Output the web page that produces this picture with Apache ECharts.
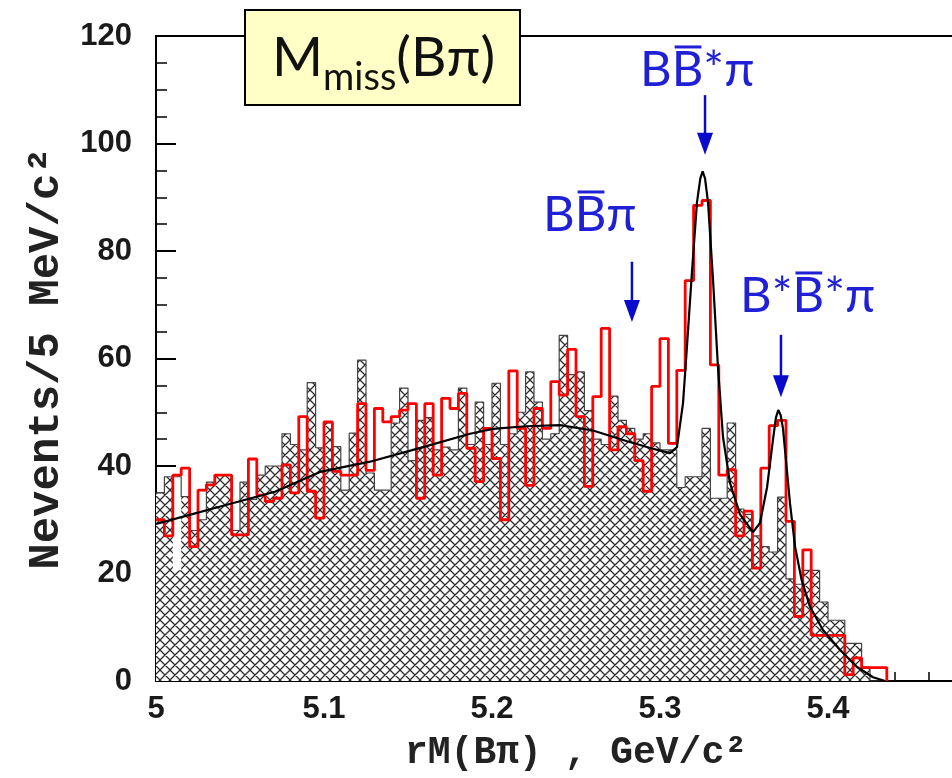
<!DOCTYPE html>
<html><head><meta charset="utf-8">
<script src="https://cdn.jsdelivr.net/npm/echarts@6/dist/echarts.min.js"></script>
<style>html,body{margin:0;padding:0;background:#fff}#c{width:952px;height:778px}</style>
</head><body><div id="c"></div>
<script>
// ---- data (bins of 5 MeV starting at 5.000 GeV) ----
const xStart = 5.0;
const binWidth = 0.005;

// red histogram (signal data)
const redCounts = [30, 27, 38.3, 39.6, 25, 35.5, 36.5, 38.3, 38.3, 27.2,
  27.2, 41.3, 34.6, 33.4, 34, 40.2, 35, 49.2, 35.3, 30.3,
  48.2, 39, 38.3, 38.3, 51.6, 39.2, 50.7, 48.2, 49.2, 50.4,
  51.6, 34, 51.6, 38.3, 52.6, 50.7, 53.5, 43.3, 37.1, 47,
  41.4, 30, 57.7, 47, 36.4, 50.7, 47, 55.7, 53.2, 61.7,
  49.2, 36.2, 52.9, 65.6, 43, 47.3, 46, 41, 35.3, 54.8,
  63.7, 44.2, 57.8, 74.5, 88.5, 89.4, 58.8, 38.3, 39.3, 27,
  31.6, 21, 39.6, 47.5, 48.5, 29.7, 12, 24.4, 8.5, 8.5,
  8.5, 8.5, 1.2, 4.3, 2.5, 2.5, 2.5];

// hatched histogram: outline top
const hatchOutline = [35, 38, 38, 34.3, 28, 30, 37, 38.3, 38.3, 28,
  37, 33.8, 38.3, 40, 40, 46, 44, 43, 55.5, 43.4,
  48, 43.6, 35.5, 46.1, 59.7, 38.7, 35.5, 35.5, 48, 54.5,
  41, 48.5, 49, 43, 43.5, 43, 54.5, 44, 51.9, 44,
  55.4, 44, 46, 50, 57.5, 51.9, 45, 46, 64.3, 57,
  57.5, 50.3, 45, 44, 53, 48.5, 47, 45, 46, 44.3,
  43, 43, 36, 38, 38, 47, 34, 34, 48, 32,
  31, 27, 25, 24, 34.2, 19, 18, 20.6, 20.6, 14.7,
  11.3, 11.3, 7, 7, 2.6, 0, 0];

// hatched histogram: filled part
const hatchFill = [35, 38, 20.6, 34.3, 28, 30, 37, 38.3, 38.3, 28,
  37, 33.8, 38.3, 40, 40, 46, 44, 43, 55.5, 43.4,
  48, 43.6, 35.5, 46.1, 59.7, 38.7, 35.5, 35.5, 48, 54.5,
  41, 48.5, 49, 43, 43.5, 43, 54.5, 44, 51.9, 44,
  55.4, 44, 46, 50, 57.5, 51.9, 45, 46, 64.3, 57,
  57.5, 50.3, 45, 44, 53, 48.5, 47, 45, 46, 44.3,
  43, 43, 36, 38, 38, 47, 34, 34, 48, 32,
  31, 27, 25, 24, 34.2, 19, 18, 20.6, 20.6, 14.7,
  11.3, 11.3, 7, 7, 2.6, 0, 0];

// fit curve
const fitX = [5.000, 5.020, 5.040, 5.0708, 5.0976, 5.1274, 5.160, 5.1869, 5.2006, 5.220,
  5.2405, 5.2601, 5.2804, 5.2958, 5.306, 5.3101, 5.3137, 5.316, 5.319, 5.322,
  5.324, 5.3254, 5.3268, 5.3286, 5.3315, 5.3345, 5.3375, 5.3417, 5.3476, 5.3554,
  5.3595, 5.3637, 5.3673, 5.369, 5.3704, 5.3718, 5.3732, 5.3774, 5.3804, 5.3843,
  5.3893, 5.397, 5.4071, 5.4173, 5.4268, 5.434];
const fitY = [29.2, 30.9, 32.6, 35.2, 38.9, 40.8, 43.6, 46.0, 46.9, 47.4,
  47.6, 46.6, 44.6, 43.2, 42.4, 43.5, 51.7, 62, 76, 89,
  93.5, 94.8, 93.5, 89, 75, 58.4, 45.4, 36.8, 31, 27.7,
  29.4, 36, 45, 49, 50.4, 49.5, 47, 33, 25, 18.8,
  13.8, 9.5, 5.8, 2.6, 0.7, 0];

// annotation arrows (x position, top, tip) in data units
const arrowX = [5.2833, 5.3268, 5.372];
const arrowTop = [78, 109, 64.4];
const arrowTip = [66.8, 97.9, 52.8];

// ---- helpers ----
function stepData(vals, closeToZero) {
  const d = vals.map((v, i) => [+(xStart + i * binWidth).toFixed(4), v]);
  const xe = +(xStart + vals.length * binWidth).toFixed(4);
  d.push([xe, vals[vals.length - 1]]);
  if (closeToZero) d.push([xe, 0]);
  return d;
}
function hatchCanvas() {
  const p = 10, c = document.createElement('canvas');
  c.width = p; c.height = p;
  const g = c.getContext('2d');
  g.fillStyle = '#fff'; g.fillRect(0, 0, p, p);
  g.strokeStyle = '#2b2b2b'; g.lineWidth = 1.25;
  g.beginPath();
  for (const dx of [-p, 0, p]) {
    g.moveTo(dx - 1, -1); g.lineTo(dx + p + 1, p + 1);
    g.moveTo(dx + p + 1, -1); g.lineTo(dx - 1, p + 1);
  }
  g.stroke();
  return c;
}

const chart = echarts.init(document.getElementById('c'), null, {renderer: 'canvas'});
const tickFont = {fontFamily: 'Liberation Sans', fontWeight: 'bold', fontSize: 31, color: '#1a1a1a'};

chart.setOption({
  animation: false,
  backgroundColor: '#fff',
  grid: {left: 156, top: 36, width: 840, height: 645, show: true, borderColor: '#000', borderWidth: 2,
    backgroundColor: 'transparent', outerBoundsMode: 'none', containLabel: false},
  xAxis: {
    type: 'value', min: 5, max: 5.5, interval: 0.1,
    axisLine: {onZero: false, lineStyle: {color: '#000', width: 2}},
    axisTick: {inside: true, length: 18, lineStyle: {color: '#000', width: 2}},
    minorTick: {show: true, splitNumber: 5, length: 9, lineStyle: {color: '#000', width: 1.5}},
    splitLine: {show: false},
    axisLabel: Object.assign({margin: 13}, tickFont),
    name: 'rM(Bπ) , GeV/c²', nameLocation: 'middle', nameGap: 53,
    nameTextStyle: {fontFamily: 'Liberation Mono', fontWeight: 'bold', fontSize: 38, color: '#222'}
  },
  yAxis: {
    type: 'value', min: 0, max: 120, interval: 20,
    axisLine: {lineStyle: {color: '#000', width: 2}},
    axisTick: {inside: true, length: 20, lineStyle: {color: '#000', width: 2}},
    minorTick: {show: true, splitNumber: 4, length: 11, lineStyle: {color: '#000', width: 1.5}},
    splitLine: {show: false},
    axisLabel: Object.assign({margin: 24}, tickFont),
    name: 'Nevents/5 MeV/c²', nameLocation: 'middle', nameGap: 86, nameRotate: 90,
    nameTextStyle: {fontFamily: 'Liberation Mono', fontWeight: 'bold', fontSize: 44, color: '#222'}
  },
  series: [
    {type: 'line', name: 'hatchFill', data: stepData(hatchFill, true), step: 'end', symbol: 'none',
      lineStyle: {width: 0}, areaStyle: {color: {image: hatchCanvas(), repeat: 'repeat'}, opacity: 1}, z: 1},
    {type: 'line', name: 'hatchOutline', data: stepData(hatchOutline, true), step: 'end', symbol: 'none',
      lineStyle: {width: 1.2, color: '#444'}, z: 2},
    {type: 'line', name: 'data', data: stepData(redCounts, true), step: 'end', symbol: 'none',
      lineStyle: {width: 2.8, color: '#ff0000'}, z: 3},
    {type: 'line', name: 'fit', data: fitX.map((x, i) => [x, fitY[i]]), symbol: 'none',
      lineStyle: {width: 2.2, color: '#000'}, z: 4}
  ]
});

// ---- annotations ----
const blue = '#1f1fd6';
const arrowBlue = '#0a0acc';
const meas = document.createElement('canvas').getContext('2d');
const graphics = [];

// title box
graphics.push({type: 'rect', shape: {x: 245, y: 10, width: 275, height: 95},
  style: {fill: '#ffffc6', stroke: '#000', lineWidth: 2}, z: 100});
function addTokens(tokens, left, midY, z) {
  let x = left;
  for (const t of tokens) {
    const font = t.size + 'px Lato';
    meas.font = font;
    const w = meas.measureText(t.s).width;
    graphics.push({type: 'text', x: x, y: midY + (t.dy || 0), z: z,
      style: {text: t.s, font: font, fill: t.color, align: 'left', verticalAlign: 'middle'}});
    if (t.over) {
      const oy = midY + (t.dy || 0) - t.size * 0.47;
      graphics.push({type: 'line', z: z, shape: {x1: x + t.size * 0.06, y1: oy, x2: x + w - t.size * 0.04, y2: oy},
        style: {stroke: t.color, lineWidth: 3}});
    }
    x += w;
  }
}
addTokens([{s: 'M', size: 55, color: '#111'}, {s: 'miss', size: 38, color: '#111', dy: 20}, {s: '(Bπ)', size: 55, color: '#111'}], 272, 58, 101);
addTokens([{s: 'B', size: 49, color: blue}, {s: 'B', size: 49, color: blue, over: true}, {s: 'π', size: 49, color: blue}], 543, 215, 101);
addTokens([{s: 'B', size: 49, color: blue}, {s: 'B', size: 49, color: blue, over: true}, {s: '*π', size: 49, color: blue}], 640, 70, 101);
addTokens([{s: 'B*', size: 49, color: blue}, {s: 'B', size: 49, color: blue, over: true}, {s: '*π', size: 49, color: blue}], 740, 296, 101);

// arrows
for (let i = 0; i < arrowX.length; i++) {
  const top = chart.convertToPixel({gridIndex: 0}, [arrowX[i], arrowTop[i]]);
  const tip = chart.convertToPixel({gridIndex: 0}, [arrowX[i], arrowTip[i]]);
  const headH = 22, headW = 8;
  graphics.push({type: 'line', z: 102, shape: {x1: top[0], y1: top[1], x2: tip[0], y2: tip[1] - headH + 2},
    style: {stroke: arrowBlue, lineWidth: 2.5}});
  graphics.push({type: 'polygon', z: 102, shape: {points: [[tip[0] - headW, tip[1] - headH], [tip[0] + headW, tip[1] - headH], [tip[0], tip[1]]]},
    style: {fill: arrowBlue}});
}
chart.setOption({graphic: graphics});
</script></body></html>
